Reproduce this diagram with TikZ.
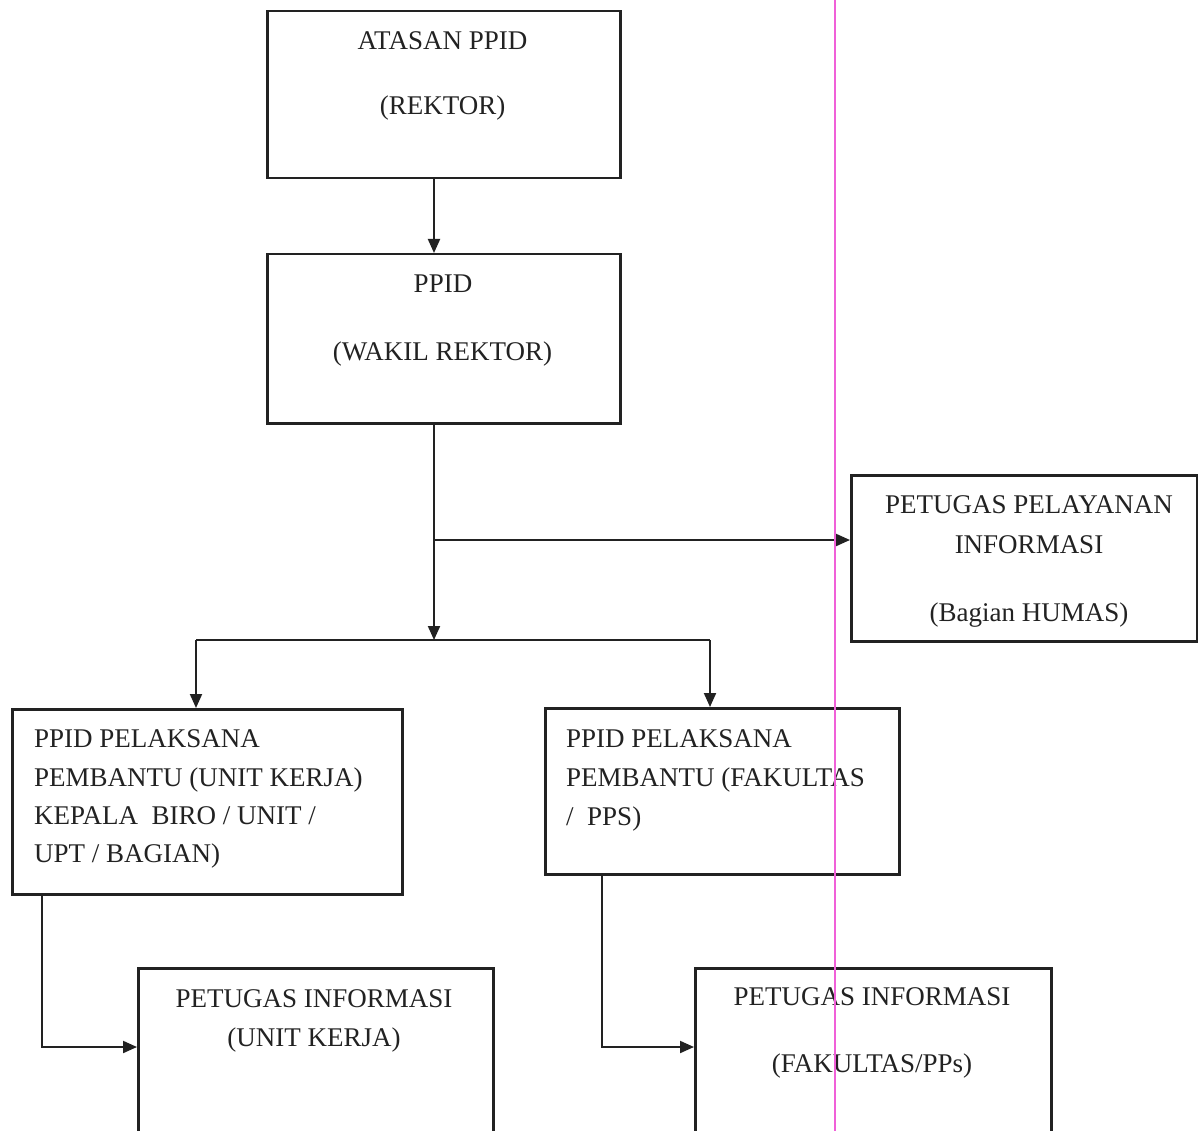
\documentclass[tikz,border=0pt]{standalone}
\usepackage{fontspec}
\setmainfont{Liberation Serif}
\usetikzlibrary{arrows.meta}
\definecolor{ink}{HTML}{222222}
\definecolor{scanpink}{HTML}{F060D8}
\begin{document}
\begin{tikzpicture}[x=1pt,y=-1pt,
  box/.style={draw=ink, line width=2.5pt, rectangle, inner sep=0pt, anchor=north west},
  lbl/.style={inner sep=0pt, text=ink, font=\fontsize{27}{38}\selectfont, anchor=base},
  lbll/.style={lbl, anchor=base west},
  conn/.style={draw=ink, line width=2pt},
  arr/.style={conn, -{Triangle[length=14pt,width=12pt]}}]
\useasboundingbox (0,0) rectangle (1198,1131);
\fill[white] (0,0) rectangle (1198,1131);
\clip (0,0) rectangle (1198,1131);

% boxes
\node[box, minimum width=353pt, minimum height=167pt] (b1) at (266,10) {};
\node[box, minimum width=353pt, minimum height=169pt] (b2) at (266,253) {};
\node[box, minimum width=346pt, minimum height=166pt] (hm) at (850,474) {};
\node[box, minimum width=390pt, minimum height=185pt] (bl) at (11,708) {};
\node[box, minimum width=354pt, minimum height=166pt] (br) at (544,707) {};
\node[box, minimum width=355pt, minimum height=200pt] (ll) at (137,967) {};
\node[box, minimum width=356pt, minimum height=200pt] (rr) at (694,967) {};

% texts
\node[lbl] (t1a) at (442.5,50) {ATASAN PPID};
\node[lbl] (t1b) at (442.5,115) {(REKTOR)};
\node[lbl] (t2a) at (443,293) {PPID};
\node[lbl] (t2b) at (442.5,360) {(WAKIL REKTOR)};
\node[lbl] (h1) at (1029,513) {PETUGAS PELAYANAN};
\node[lbl] (h2) at (1029,553) {INFORMASI};
\node[lbl] (h3) at (1029,621) {(Bagian HUMAS)};
\node[lbll] (l1) at (34,747) {PPID PELAKSANA};
\node[lbll] (l2) at (34,786) {PEMBANTU (UNIT KERJA)};
\node[lbll] (l3) at (34,824) {KEPALA\ \ BIRO / UNIT /};
\node[lbll] (l4) at (34,862) {UPT / BAGIAN)};
\node[lbll] (r1) at (566,747) {PPID PELAKSANA};
\node[lbll] (r2) at (566,786) {PEMBANTU (FAKULTAS};
\node[lbll] (r3) at (566,825) {/\ \ PPS)};
\node[lbl] (ll1) at (314,1007) {PETUGAS INFORMASI};
\node[lbl] (ll2) at (314,1046) {(UNIT KERJA)};
\node[lbl] (rr1) at (872,1005) {PETUGAS INFORMASI};
\node[lbl] (rr2) at (872,1072) {(FAKULTAS/PPs)};

% connectors
\coordinate (cx) at (434,0);
\coordinate (m) at (434,540);
\coordinate (j) at (434,640);
\coordinate (jl) at (196,640);
\coordinate (jr) at (710,640);
\coordinate (kl) at (42,1047);
\coordinate (kr) at (602,1047);

\draw[arr] (b1.south -| cx) -- (b2.north -| cx);
\draw[arr] (b2.south -| cx) -- (j);
\draw[arr] (m) -- (m -| hm.west);
\draw[conn] (jl) -- (jr);
\draw[arr] (jl) -- (jl |- bl.north);
\draw[arr] (jr) -- (jr |- br.north);
\draw[arr] (bl.south -| kl) |- (kl -| ll.west);
\draw[arr] (br.south -| kr) |- (kr -| rr.west);

% scan margin line
\draw[scanpink, line width=1.1pt] (835,0) -- (835,1131);
\end{tikzpicture}
\end{document}
